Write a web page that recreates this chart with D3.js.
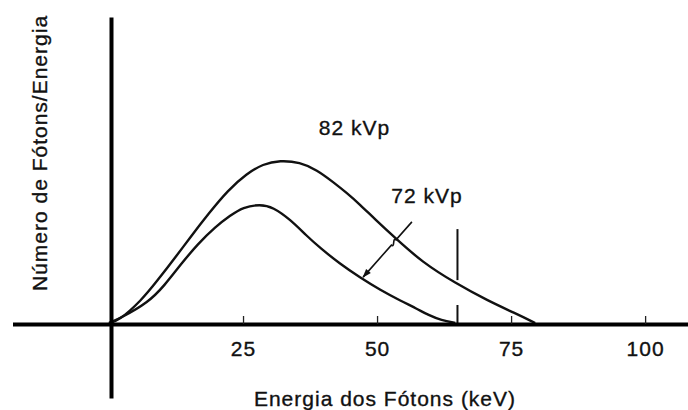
<!DOCTYPE html>
<html>
<head>
<meta charset="utf-8">
<script src="https://cdn.jsdelivr.net/npm/d3@7/dist/d3.min.js"></script>
<style>
  body { margin: 0; background: #fff; }
  text { font-family: "Liberation Sans", Arial, sans-serif; font-size: 21px; letter-spacing: 1px; fill: #111; stroke: #111; stroke-width: 0.35px; }
</style>
</head>
<body>
<svg id="chart" width="688" height="410"></svg>
<script>
// spectrum 82 kVp (energy in keV, photons per energy, arbitrary units)
var kev82 = [0, 0, 1.7, 6.0, 9.1, 12.3, 15.3, 18.5, 22.2, 25.7, 28.7, 31.9, 35.6, 38.8, 41.8, 44.4, 46.8, 49.6, 53.4, 58.4, 64.6, 70.7, 75.7, 79.5, 79.5];
var cnt82 = [0, 0, 0.6, 7.4, 14.3, 21.7, 28.9, 36.3, 44.3, 49.8, 53, 54.2, 53.6, 51, 47, 43.3, 39.5, 34.6, 28.3, 20.3, 13.3, 7.4, 3.3, 0, 0];

// spectrum 72 kVp
var kev72 = [0, 0, 2.2, 7.3, 10.4, 13.4, 16.6, 19.8, 22.6, 25, 28.2, 30.6, 33.8, 36.9, 39.4, 43.1, 46.8, 50.6, 54.5, 57.4, 59.6, 62, 64.6, 64.6];
var cnt72 = [0, 0, 1.7, 6.8, 12.6, 19.6, 26.4, 32, 35.8, 38.6, 39.6, 38.6, 34.5, 29, 25, 19.7, 15.2, 11, 7.3, 4.8, 2.6, 0.9, 0, 0];

var tickValues = [25, 50, 75, 100];
var seriesLabels = ['82 kVp', '72 kVp'];

// vertical line at 65 keV: [top, gap top, gap bottom]
var markKev = 65;
var markLevels = [31.3, 14.3, 6];

var svg = d3.select('#chart');

var x = d3.scaleLinear().domain([-18, 108]).range([12.5, 688]);
var y = d3.scaleLinear().domain([-25, 102]).range([398, 17]);

var zip = function (xs, ys) {
    return xs.map(function (v, i) { return [v, ys[i]]; });
};

var line = d3.line()
    .x(function (d) { return x(d[0]); })
    .y(function (d) { return y(d[1]); })
    .curve(d3.curveBasis);

// curves
[zip(kev82, cnt82), zip(kev72, cnt72)].forEach(function (pts) {
    svg.append('path')
        .attr('d', line(pts))
        .attr('fill', 'none')
        .attr('stroke', '#111')
        .attr('stroke-width', 2.4);
});

// vertical mark (broken near the bottom)
svg.append('line')
    .attr('x1', x(markKev)).attr('x2', x(markKev))
    .attr('y1', y(markLevels[0])).attr('y2', y(markLevels[1]))
    .attr('stroke', '#111').attr('stroke-width', 2);
svg.append('line')
    .attr('x1', x(markKev)).attr('x2', x(markKev))
    .attr('y1', y(markLevels[2])).attr('y2', y(0))
    .attr('stroke', '#111').attr('stroke-width', 2);

// x axis
var xAxis = d3.axisBottom(x)
    .tickValues(tickValues)
    .tickSizeInner(-8)
    .tickSizeOuter(0)
    .tickPadding(17);

var gx = svg.append('g')
    .attr('transform', 'translate(0,' + (y(0) + 1) + ')')
    .call(xAxis);
gx.select('.domain').attr('stroke', '#000').attr('stroke-width', 4);
gx.selectAll('.tick line').attr('stroke', '#222').attr('stroke-width', 1.3);
gx.selectAll('.tick text')
    .attr('fill', '#111')
    .style('font-size', '21px')
    .style('font-family', '"Liberation Sans", Arial, sans-serif');

// y axis
var yAxis = d3.axisLeft(y).tickValues([]).tickSizeOuter(0);
var gy = svg.append('g')
    .attr('transform', 'translate(' + (x(0) + 2) + ',0)')
    .call(yAxis);
gy.select('.domain').attr('stroke', '#000').attr('stroke-width', 4);

// axis titles
svg.append('text')
    .attr('x', 385).attr('y', 406)
    .attr('text-anchor', 'middle')
    .text('Energia dos Fótons (keV)');

svg.append('text')
    .attr('transform', 'translate(47,153) rotate(-90)')
    .attr('text-anchor', 'middle')
    .text('Número de Fótons/Energia');

// series labels
svg.append('text')
    .attr('x', x(45.8)).attr('y', 135)
    .attr('text-anchor', 'middle')
    .text(seriesLabels[0]);
svg.append('text')
    .attr('x', x(59.3)).attr('y', 203)
    .attr('text-anchor', 'middle')
    .text(seriesLabels[1]);

// arrow from the label to the 72 kVp curve, with a small kink
svg.append('defs').append('marker')
    .attr('id', 'head')
    .attr('viewBox', '0 0 10 10')
    .attr('refX', 9).attr('refY', 5)
    .attr('markerWidth', 11).attr('markerHeight', 9)
    .attr('markerUnits', 'userSpaceOnUse')
    .attr('orient', 'auto')
    .append('path')
    .attr('d', 'M0,1.5 L10,5 L0,8.5 Z')
    .attr('fill', '#111');

var p0 = [x(56.5), y(33.7)], p1 = [x(47.4), y(15.3)];
var dx = p1[0] - p0[0], dy = p1[1] - p0[1];
var len = Math.sqrt(dx * dx + dy * dy);
var u = [dx / len, dy / len], n = [-u[1], u[0]];
var a = [p0[0] + u[0] * 24, p0[1] + u[1] * 24];
var b = [a[0] + u[0] * 7, a[1] + u[1] * 7];
var arrowPath = d3.path();
arrowPath.moveTo(p0[0], p0[1]);
arrowPath.lineTo(a[0], a[1]);
arrowPath.bezierCurveTo(a[0] + n[0] * 5, a[1] + n[1] * 5, b[0] - n[0] * 5, b[1] - n[1] * 5, b[0], b[1]);
arrowPath.lineTo(p1[0], p1[1]);
svg.append('path')
    .attr('d', arrowPath.toString())
    .attr('fill', 'none')
    .attr('stroke', '#111')
    .attr('stroke-width', 1.6)
    .attr('marker-end', 'url(#head)');
</script>
</body>
</html>
